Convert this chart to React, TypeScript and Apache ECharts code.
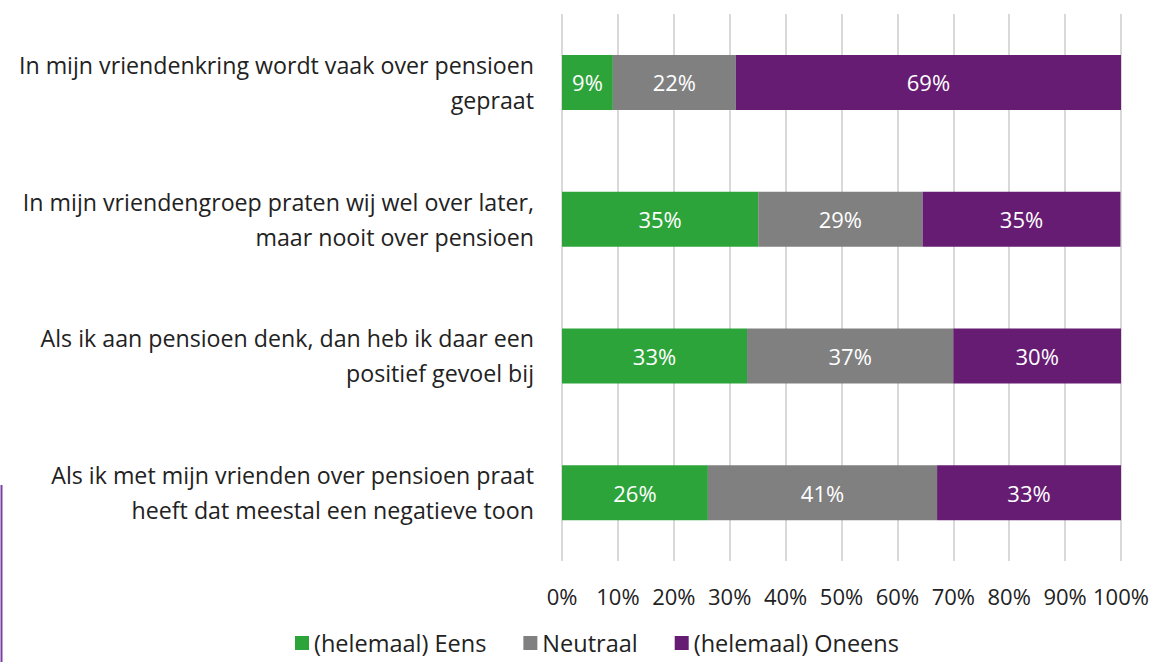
import React, { useEffect, useRef } from "react";
import * as echarts from "echarts";

const categories = [
  "In mijn vriendenkring wordt vaak over pensioen\ngepraat",
  "In mijn vriendengroep praten wij wel over later,\nmaar nooit over pensioen",
  "Als ik aan pensioen denk, dan heb ik daar een\npositief gevoel bij",
  "Als ik met mijn vrienden over pensioen praat\nheeft dat meestal een negatieve toon",
];
const seriesNames = ["(helemaal) Eens", "Neutraal", "(helemaal) Oneens"];
const eens = [9.1, 35.1, 33.1, 26.1];
const neutraal = [22.0, 29.4, 36.9, 41.0];
const oneens = [68.9, 35.4, 30.0, 32.9];
const colors = ["#2CA43A", "#808080", "#661C73"];

export default function App() {
  const ref = useRef<HTMLDivElement>(null);
  useEffect(() => {
    const chart = echarts.init(ref.current!, null, { renderer: "svg" });
    const font = "'Open Sans', sans-serif";
    const mk = (name: string, data: number[], color: string) => ({
      name,
      type: "bar",
      stack: "total",
      data,
      barWidth: 55,
      itemStyle: { color },
      label: {
        show: true,
        position: "inside",
        color: "#ffffff",
        fontSize: 22,
        fontFamily: font,
        formatter: (p: any) => Math.round(p.value) + "%",
      },
    });
    chart.setOption({
      animation: false,
      textStyle: { fontFamily: font },
      grid: { left: 562, right: 35, top: 14, bottom: 101, containLabel: false },
      legend: {
        left: 295,
        top: 631,
        padding: 0,
        itemWidth: 14,
        itemHeight: 14,
        itemGap: 37,
        icon: "rect",
        textStyle: { fontSize: 23.5, lineHeight: 24, color: "#222", fontFamily: font },
        data: seriesNames,
      },
      xAxis: {
        type: "value",
        min: 0,
        max: 100,
        interval: 10,
        axisLabel: {
          formatter: "{value}%",
          fontSize: 22,
          color: "#222",
          margin: 24,
          fontFamily: font,
        },
        splitLine: { show: true, lineStyle: { color: "#D9D9D9", width: 2 } },
        axisLine: { show: false },
        axisTick: { show: false },
      },
      yAxis: {
        type: "category",
        inverse: true,
        data: categories,
        axisLabel: {
          fontSize: 23.2,
          color: "#222",
          margin: 28,
          lineHeight: 35,
          align: "right",
          fontFamily: font,
        },
        axisLine: { show: false },
        axisTick: { show: false },
      },
      graphic: [
        {
          type: "line",
          shape: { x1: 1.5, y1: 485, x2: 1.5, y2: 662 },
          style: { stroke: "#7B3FA0", lineWidth: 2 },
        },
      ],
      series: [
        mk(seriesNames[0], eens, colors[0]),
        mk(seriesNames[1], neutraal, colors[1]),
        mk(seriesNames[2], oneens, colors[2]),
      ],
    });
    return () => chart.dispose();
  }, []);
  return (
    <div
      ref={ref}
      style={{ position: "absolute", left: 0, top: 0, width: 1156, height: 662, background: "#fff" }}
    />
  );
}
